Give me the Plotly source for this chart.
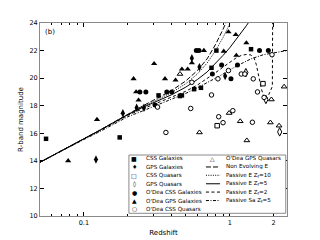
import plotly.graph_objects as go
import math

# ---------------- data ----------------
css_gal_z = [0.055, 0.176, 0.325, 0.455, 0.47, 0.57, 0.635, 0.75, 0.81, 1.40]
css_gal_m = [15.6, 15.7, 18.75, 18.7, 18.75, 19.2, 19.3, 20.75, 22.0, 22.1]

gps_gal_z = [0.121, 0.185, 0.23, 0.258, 0.55, 0.62, 0.93]
gps_gal_m = [14.1, 17.45, 17.85, 17.85, 21.45, 20.8, 20.15]

css_qso_z = [0.82, 1.69]
css_qso_m = [16.55, 19.6]

gps_qso_z = [1.29, 1.77, 2.2]
gps_qso_m = [20.4, 18.45, 16.1]

odea_css_gal_z = [0.242, 0.266, 0.308, 0.37, 0.40, 0.59, 0.615, 0.76, 0.88, 1.02, 1.13, 1.60, 1.84]
odea_css_gal_m = [19.0, 19.0, 18.05, 19.0, 19.0, 22.0, 22.0, 20.3, 20.95, 19.95, 20.95, 22.0, 22.0]

odea_gps_gal_z = [0.078, 0.123, 0.219, 0.228, 0.237, 0.303, 0.36, 0.425, 0.47, 0.515,
                  0.55, 0.665, 0.91, 0.98, 1.10, 1.11, 1.30]
odea_gps_gal_m = [14.0, 17.0, 19.95, 19.0, 18.4, 21.05, 19.95, 19.85, 20.65, 20.65,
                  21.1, 22.0, 21.95, 23.35, 23.15, 21.65, 22.55]

odea_css_qso_z = [0.32, 0.365, 0.54, 0.55, 0.75, 0.83, 0.84, 0.90, 0.98, 1.05, 1.20,
                  1.27, 1.43, 1.45, 1.55, 1.72, 1.95]
odea_css_qso_m = [17.9, 16.06, 17.8, 19.7, 18.78, 19.95, 17.2, 16.77, 20.55, 17.64, 20.3,
                  20.3, 16.8, 19.95, 19.0, 18.6, 21.7]

odea_gps_qso_z = [0.456, 0.62, 0.99, 1.18, 1.31, 1.90, 1.93, 2.18, 2.36]
odea_gps_qso_m = [20.3, 16.06, 17.47, 16.87, 15.48, 16.78, 18.45, 16.55, 19.38]

# model curves
ne_z = [0.05, 0.07, 0.1, 0.13, 0.16, 0.2, 0.25, 0.3, 0.4, 0.5, 0.6, 0.7, 0.8, 0.9, 0.95]
ne_m = [13.9, 14.75, 15.6, 16.25, 16.8, 17.4, 17.95, 18.4, 19.1, 19.8, 20.55, 21.4, 22.45, 23.55, 24.1]

pe10_z = [0.05, 0.07, 0.1, 0.13, 0.16, 0.2, 0.25, 0.3, 0.4, 0.5, 0.6, 0.7, 0.8, 0.9, 1.0, 1.05]
pe10_m = [13.9, 14.75, 15.6, 16.25, 16.8, 17.38, 17.9, 18.3, 18.95, 19.6, 20.3, 21.1, 22.0, 22.95, 23.9, 24.4]

pe5_z = [0.05, 0.07, 0.1, 0.13, 0.16, 0.2, 0.25, 0.3, 0.4, 0.5, 0.6, 0.7, 0.8, 0.9, 1.0,
         1.1, 1.2, 1.3, 1.4]
pe5_m = [13.9, 14.75, 15.6, 16.25, 16.8, 17.35, 17.85, 18.2, 18.8, 19.35, 19.9, 20.45, 21.05,
         21.65, 22.2, 22.75, 23.3, 23.8, 24.3]

pe2_z = [0.05, 0.07, 0.1, 0.13, 0.16, 0.2, 0.25, 0.3, 0.4, 0.5, 0.6, 0.7, 0.8, 0.9, 1.0,
         1.1, 1.2, 1.3, 1.4, 1.47, 1.52, 1.58, 1.65, 1.72, 1.77, 1.85, 1.96, 1.97]
pe2_m = [13.9, 14.75, 15.6, 16.22, 16.75, 17.3, 17.75, 18.1, 18.6, 19.05, 19.5, 19.95, 20.4,
         20.8, 21.15, 21.45, 21.65, 21.72, 21.68, 21.45, 21.0, 20.1, 19.2, 18.6, 18.45, 18.8,
         19.4, 24.5]

sa5_z = [0.05, 0.07, 0.1, 0.13, 0.16, 0.2, 0.25, 0.3, 0.4, 0.5, 0.6, 0.7, 0.8, 0.9, 1.0,
         1.2, 1.4, 1.7, 2.0, 2.47]
sa5_m = [13.9, 14.72, 15.55, 16.15, 16.65, 17.2, 17.6, 17.95, 18.45, 18.9, 19.3, 19.65, 20.0,
         20.3, 20.6, 21.05, 21.4, 21.7, 21.85, 22.0]

x_tickvals = [0.1, 1, 2]
x_ticktext = ["0.1", "1", "2"]
x_minor = [0.06, 0.07, 0.08, 0.09, 0.2, 0.3, 0.4, 0.5, 0.6, 0.7, 0.8, 0.9]
y_tickvals = [10, 12, 14, 16, 18, 20, 22, 24]

# ---------------- styling ----------------
FONT = "DejaVu Sans"
LW = 1.0
pt_series = [
    ("CSS Galaxies", css_gal_z, css_gal_m, "square", 4.5, True, "■"),
    ("GPS Galaxies", gps_gal_z, gps_gal_m, "diamond-tall", 6, True, "♦"),
    ("CSS Quasars", css_qso_z, css_qso_m, "square", 4.5, False, "□"),
    ("GPS Quasars", gps_qso_z, gps_qso_m, "diamond-tall", 6, False, "◊"),
    ("O'Dea CSS Galaxies", odea_css_gal_z, odea_css_gal_m, "circle", 5, True, "●"),
    ("O'Dea GPS Galaxies", odea_gps_gal_z, odea_gps_gal_m, "triangle-up", 5.5, True, "▲"),
    ("O'Dea CSS Quasars", odea_css_qso_z, odea_css_qso_m, "circle", 4.5, False, "○"),
    ("O'Dea GPS Quasars", odea_gps_qso_z, odea_gps_qso_m, "triangle-up", 5, False, "△"),
]
line_series = [
    ("Non Evolving E", ne_z, ne_m, "5px,2px"),
    ("Passive E Z<sub>f</sub>=10", pe10_z, pe10_m, "1px,1.3px"),
    ("Passive E Z<sub>f</sub>=5", pe5_z, pe5_m, "solid"),
    ("Passive E Z<sub>f</sub>=2", pe2_z, pe2_m, "3px,2.5px"),
    ("Passive Sa Z<sub>f</sub>=5", sa5_z, sa5_m, "3px,1.5px,1px,1.5px"),
]

fig = go.Figure()
for name, z, m, dash in line_series:
    fig.add_trace(go.Scatter(x=z, y=m, mode="lines", name=name, showlegend=False,
                             line=dict(color="black", width=LW, dash=dash)))
for name, z, m, sym, size, filled, glyph in pt_series:
    fig.add_trace(go.Scatter(
        x=z, y=m, mode="markers", name=name, showlegend=False,
        marker=dict(symbol=sym, size=size,
                    color="black" if filled else "white",
                    line=dict(color="black", width=0 if filled else 1.0))))

# ---------------- manual legend ----------------
L_X0, L_X1, L_Y0, L_Y1 = 0.36, 0.995, 0.014, 0.316
fig.add_shape(type="rect", xref="paper", yref="paper", x0=L_X0, x1=L_X1, y0=L_Y0, y1=L_Y1,
              line=dict(color="#8a8a8a", width=1), fillcolor="white", layer="above")
row_y = [0.298, 0.254, 0.211, 0.167, 0.124, 0.080, 0.037]
LFS = 5.6
annotations = []
col1 = pt_series[:7]
for i, s in enumerate(col1):
    annotations.append(dict(x=0.381, y=row_y[i], xref="paper", yref="paper", text=s[6],
                            showarrow=False, xanchor="center", yanchor="middle",
                            font=dict(size=6, family=FONT, color="black")))
    annotations.append(dict(x=0.422, y=row_y[i], xref="paper", yref="paper", text=s[0],
                            showarrow=False, xanchor="left", yanchor="middle",
                            font=dict(size=LFS, family=FONT, color="black")))
s = pt_series[7]
annotations.append(dict(x=0.700, y=row_y[0], xref="paper", yref="paper", text=s[6],
                        showarrow=False, xanchor="center", yanchor="middle",
                        font=dict(size=6, family=FONT, color="black")))
annotations.append(dict(x=0.745, y=row_y[0], xref="paper", yref="paper", text=s[0],
                        showarrow=False, xanchor="left", yanchor="middle",
                        font=dict(size=LFS, family=FONT, color="black")))
for i, (name, z, m, dash) in enumerate(line_series):
    yy = row_y[i + 1]
    fig.add_shape(type="line", xref="paper", yref="paper", x0=0.672, x1=0.729, y0=yy, y1=yy,
                  line=dict(color="black", width=LW, dash=dash), layer="above")
    annotations.append(dict(x=0.745, y=yy, xref="paper", yref="paper", text=name,
                            showarrow=False, xanchor="left", yanchor="middle",
                            font=dict(size=LFS, family=FONT, color="black")))

annotations.append(dict(x=0.012, y=0.985, xref="paper", yref="paper", text="(b)",
                        showarrow=False, xanchor="left", yanchor="top",
                        font=dict(size=7, family=FONT, color="black")))

axis_common = dict(showline=True, linecolor="#8a8a8a", linewidth=1, mirror="ticks",
                   ticks="inside", ticklen=4, tickwidth=0.8, tickcolor="black",
                   showgrid=False, zeroline=False,
                   tickfont=dict(size=6.5, family=FONT, color="black"))

fig.update_layout(
    template="none",
    width=320, height=240,
    margin=dict(l=40, r=33, t=23, b=24),
    paper_bgcolor="white", plot_bgcolor="white",
    showlegend=False,
    annotations=annotations,
    xaxis=dict(type="log", range=[math.log10(0.05), math.log10(2.47)],
               tickvals=x_tickvals, ticktext=x_ticktext,
               minor=dict(ticks="inside", ticklen=2, tickcolor="black", tickvals=x_minor),
               title=dict(text="Redshift", font=dict(size=7, family=FONT, color="black"),
                          standoff=4),
               **axis_common),
    yaxis=dict(range=[10, 24], tickvals=y_tickvals,
               title=dict(text="R-band magnitude", font=dict(size=7, family=FONT, color="black"),
                          standoff=4),
               **axis_common),
)

fig.write_html("out.html", config={"displayModeBar": False},
               post_script="document.body.style.margin='0px';document.body.style.overflow='hidden';")
